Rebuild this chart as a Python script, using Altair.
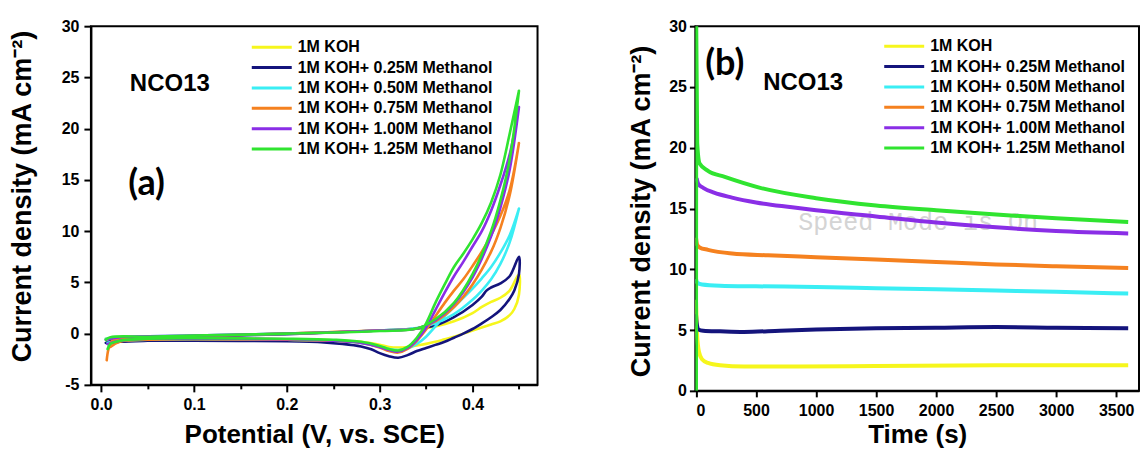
import altair as alt
import pandas as pd

SERIES = ["1M KOH", "1M KOH+ 0.25M Methanol", "1M KOH+ 0.50M Methanol",
          "1M KOH+ 0.75M Methanol", "1M KOH+ 1.00M Methanol", "1M KOH+ 1.25M Methanol"]
COLORS = ["#f6f61c", "#14147c", "#3aeef4", "#f5811f", "#8a2ee6", "#30e430"]

# ---------------- Panel (a): cyclic voltammograms (forward then reverse scan) ----------------
KOH_FV = [0.005, 0.02, 0.1, 0.2, 0.3, 0.34, 0.36, 0.38, 0.40, 0.41, 0.42, 0.43, 0.44, 0.45]
KOH_FJ = [-0.5, -0.35, -0.25, 0.0, 0.3, 0.5, 0.7, 1.2, 2.0, 2.6, 3.1, 3.5, 4.2, 5.8]
KOH_RV = [0.45, 0.445, 0.44, 0.43, 0.42, 0.41, 0.40, 0.39, 0.38, 0.37, 0.36, 0.35, 0.34, 0.33, 0.32, 0.31, 0.30, 0.28, 0.25, 0.2, 0.1, 0.05, 0.02, 0.007]
KOH_RJ = [3.8, 2.4, 1.8, 1.2, 0.9, 0.6, 0.3, 0.0, -0.3, -0.55, -0.8, -1.0, -1.15, -1.3, -1.35, -1.3, -1.1, -0.8, -0.65, -0.55, -0.5, -0.55, -0.65, -0.8]

M025_FV = [0.005, 0.02, 0.1, 0.2, 0.3, 0.34, 0.36, 0.38, 0.40, 0.41, 0.415, 0.42, 0.43, 0.44, 0.45]
M025_FJ = [-0.9, -0.5, -0.3, -0.05, 0.3, 0.5, 0.8, 1.6, 2.8, 3.6, 4.2, 4.5, 4.9, 5.6, 7.5]
M025_RV = [0.45, 0.445, 0.44, 0.43, 0.42, 0.41, 0.40, 0.39, 0.38, 0.37, 0.36, 0.35, 0.34, 0.33, 0.32, 0.31, 0.30, 0.29, 0.28, 0.26, 0.24, 0.2, 0.1, 0.05, 0.02, 0.007]
M025_RJ = [5.8, 4.2, 3.4, 2.3, 1.6, 1.0, 0.45, 0.0, -0.4, -0.8, -1.1, -1.4, -1.7, -2.1, -2.35, -2.2, -1.9, -1.5, -1.25, -1.0, -0.85, -0.75, -0.7, -0.7, -0.8, -1.0]

M050_FV = [0.005, 0.02, 0.1, 0.2, 0.3, 0.34, 0.36, 0.38, 0.40, 0.41, 0.42, 0.43, 0.44, 0.45]
M050_FJ = [-0.5, -0.35, -0.2, 0.0, 0.3, 0.55, 1.0, 1.9, 3.3, 4.2, 5.3, 6.8, 8.9, 12.2]
M050_RV = [0.45, 0.44, 0.43, 0.42, 0.41, 0.40, 0.39, 0.38, 0.37, 0.36, 0.35, 0.34, 0.33, 0.32, 0.31, 0.30, 0.28, 0.25, 0.2, 0.1, 0.05, 0.02, 0.007]
M050_RJ = [12.2, 9.6, 7.9, 6.5, 5.4, 4.4, 3.5, 2.6, 1.7, 0.7, -0.3, -1.0, -1.45, -1.6, -1.5, -1.25, -0.9, -0.7, -0.6, -0.55, -0.6, -0.7, -0.9]

M075_FV = [0.006, 0.008, 0.012, 0.03, 0.1, 0.2, 0.3, 0.34, 0.36, 0.38, 0.40, 0.42, 0.43, 0.44, 0.45]
M075_FJ = [-2.6, -1.5, -0.7, -0.4, -0.25, 0.0, 0.3, 0.5, 1.2, 2.6, 4.8, 8.0, 10.3, 13.5, 18.6]
M075_RV = [0.45, 0.44, 0.43, 0.42, 0.41, 0.40, 0.39, 0.38, 0.37, 0.36, 0.35, 0.34, 0.33, 0.32, 0.31, 0.30, 0.28, 0.25, 0.2, 0.1, 0.05, 0.02, 0.01]
M075_RJ = [18.6, 14.0, 11.5, 9.6, 8.0, 6.6, 5.3, 4.2, 3.0, 1.7, 0.4, -0.7, -1.5, -1.85, -1.7, -1.35, -0.9, -0.7, -0.6, -0.55, -0.6, -0.8, -1.3]

M100_FV = [0.005, 0.02, 0.1, 0.2, 0.3, 0.34, 0.36, 0.38, 0.40, 0.42, 0.43, 0.44, 0.45]
M100_FJ = [-0.6, -0.35, -0.2, 0.0, 0.3, 0.5, 1.3, 2.9, 5.5, 9.5, 12.3, 16.0, 22.1]
M100_RV = [0.45, 0.44, 0.43, 0.42, 0.41, 0.40, 0.39, 0.38, 0.37, 0.36, 0.35, 0.34, 0.33, 0.32, 0.31, 0.30, 0.28, 0.25, 0.2, 0.1, 0.05, 0.02, 0.007]
M100_RJ = [22.1, 17.5, 14.5, 12.0, 10.0, 8.5, 7.0, 5.6, 4.0, 2.3, 0.6, -0.6, -1.4, -1.75, -1.6, -1.3, -0.9, -0.7, -0.55, -0.5, -0.5, -0.7, -1.0]

M125_FV = [0.005, 0.01, 0.05, 0.1, 0.2, 0.3, 0.34, 0.36, 0.38, 0.40, 0.42, 0.43, 0.44, 0.45]
M125_FJ = [-0.6, -0.35, -0.3, -0.2, 0.0, 0.25, 0.5, 1.4, 3.0, 5.8, 10.0, 13.0, 17.0, 23.7]
M125_RV = [0.45, 0.44, 0.43, 0.42, 0.41, 0.40, 0.39, 0.38, 0.37, 0.36, 0.35, 0.34, 0.33, 0.32, 0.31, 0.30, 0.28, 0.25, 0.2, 0.1, 0.05, 0.02, 0.01, 0.007]
M125_RJ = [23.7, 19.5, 15.5, 12.8, 10.8, 9.2, 7.8, 6.5, 4.8, 3.0, 1.0, -0.4, -1.3, -1.65, -1.5, -1.2, -0.8, -0.6, -0.5, -0.45, -0.5, -0.7, -1.0, -1.5]

CV = [(KOH_FV, KOH_FJ, KOH_RV, KOH_RJ), (M025_FV, M025_FJ, M025_RV, M025_RJ),
      (M050_FV, M050_FJ, M050_RV, M050_RJ), (M075_FV, M075_FJ, M075_RV, M075_RJ),
      (M100_FV, M100_FJ, M100_RV, M100_RJ), (M125_FV, M125_FJ, M125_RV, M125_RJ)]

# ---------------- Panel (b): chronoamperometry ----------------
KOH_T = [0, 10, 25, 50, 100, 200, 400, 800, 1500, 2500, 3600]
KOH_J = [7.5, 4.5, 3.2, 2.6, 2.3, 2.1, 2.0, 2.0, 2.05, 2.1, 2.1]
M025_T = [0, 5, 20, 60, 200, 400, 700, 1000, 1500, 2000, 2500, 3000, 3600]
M025_J = [6.3, 5.6, 5.05, 4.95, 4.9, 4.85, 4.95, 5.05, 5.15, 5.2, 5.25, 5.2, 5.15]
M050_T = [0, 10, 50, 200, 500, 1000, 1500, 2000, 2500, 3000, 3600]
M050_J = [9.2, 8.9, 8.75, 8.65, 8.6, 8.55, 8.45, 8.35, 8.25, 8.15, 8.0]
M075_T = [0, 10, 30, 100, 300, 600, 1000, 1500, 2000, 2500, 3000, 3600]
M075_J = [12.6, 12.0, 11.8, 11.6, 11.3, 11.15, 11.0, 10.8, 10.6, 10.4, 10.25, 10.1]
M100_T = [5, 20, 60, 150, 300, 500, 800, 1000, 1500, 2000, 2500, 3000, 3600]
M100_J = [17.5, 17.0, 16.7, 16.3, 15.9, 15.5, 15.1, 14.85, 14.35, 13.85, 13.45, 13.15, 12.95]
M125_T = [0, 2, 10, 30, 100, 240, 535, 1000, 1500, 2000, 2500, 3000, 3600]
M125_J = [0, 30, 20.4, 18.7, 18.1, 17.6, 16.7, 15.85, 15.25, 14.85, 14.5, 14.2, 13.9]

CA = [(KOH_T, KOH_J), (M025_T, M025_J), (M050_T, M050_J),
      (M075_T, M075_J), (M100_T, M100_J), (M125_T, M125_J)]

# annotations (data coordinates)
LABEL_A_X = [0.074]
LABEL_A_Y = [24.35]
TAG_A_X = [0.049]
TAG_A_Y = [14.6]
LABEL_B_X = [893]
LABEL_B_Y = [25.3]
TAG_B_X = [240]
TAG_B_Y = [26.9]
WATERMARK_X = [1850]
WATERMARK_Y = [13.9]

rows = []
for s, (fv, fj, rv, rj) in zip(SERIES, CV):
    i = 0
    for v, j in list(zip(fv, fj)) + list(zip(rv, rj)):
        rows.append({"series": s, "V": v, "J": j, "idx": i})
        i += 1
df_a = pd.DataFrame(rows)

rows = []
for s, (t, j) in zip(SERIES, CA):
    for k, (tt, jj) in enumerate(zip(t, j)):
        rows.append({"series": s, "t": tt, "J": jj, "idx": k})
df_b = pd.DataFrame(rows)

FONT = "Liberation Sans"
YTITLE = "Current density (mA cm\u207b\u00b2)"
BOLD = {"condition": {"test": "datum.value === datum.value", "value": "bold"}, "value": "bold"}

common_axis = dict(
    labelFont=FONT, labelFontSize=16, labelFontWeight=BOLD, labelColor="black",
    titleFont=FONT, titleFontWeight="bold", titleColor="black",
    domainColor="black", domainWidth=2, tickColor="black", tickWidth=2,
    grid=False,
)


def legend(lx, ly):
    return alt.Legend(
        title=None, orient="none", legendX=lx, legendY=ly,
        symbolType="M-7,0H1", symbolSize=100, symbolStrokeWidth=3,
        labelFont=FONT, labelFontSize=16, labelFontWeight="bold", labelColor="black",
        labelLimit=0, rowPadding=4.4, labelOffset=3, padding=0,
    )


color_scale = alt.Scale(domain=SERIES, range=COLORS)

# ---- panel a ----
xa_axis = alt.Axis(
    title="Potential (V, vs. SCE)", titleFontSize=26, titleY=58, titleBaseline="alphabetic",
    values=[0.0, 0.05, 0.1, 0.15, 0.2, 0.25, 0.3, 0.35, 0.4, 0.45],
    labelExpr="abs(datum.value*10 - round(datum.value*10)) < 0.001 ? format(datum.value, '.1f') : ''",
    tickSize={"condition": {"test": "abs(datum.value*10 - round(datum.value*10)) < 0.001", "value": 7}, "value": 4},
    labelPadding=5, **common_axis)
ya_axis = alt.Axis(
    title=YTITLE, titleFontSize=27, titleX=-54, titleY=170,
    values=[-5, -2.5, 0, 2.5, 5, 7.5, 10, 12.5, 15, 17.5, 20, 22.5, 25, 27.5, 30],
    labelExpr="datum.value % 5 === 0 ? '' + datum.value : ''",
    tickSize={"condition": {"test": "datum.value % 5 === 0", "value": 7}, "value": 4},
    labelPadding=5, **common_axis)

xa = alt.X("V:Q", scale=alt.Scale(domain=[-0.011, 0.47], nice=False, zero=False), axis=xa_axis)
ya = alt.Y("J:Q", scale=alt.Scale(domain=[-5, 30], nice=False, zero=False), axis=ya_axis)

lines_a = alt.Chart(df_a).mark_line(strokeWidth=2.6, interpolate="catmull-rom", clip=True,
                                     strokeCap="round", strokeJoin="round").encode(
    x=xa, y=ya,
    color=alt.Color("series:N", scale=color_scale, legend=legend(188, 13)),
    order="idx:Q",
)
nco_a = alt.Chart(pd.DataFrame({"V": LABEL_A_X, "J": LABEL_A_Y, "txt": ["NCO13"]})).mark_text(
    font=FONT, fontSize=24, fontWeight="bold", color="black", baseline="middle").encode(
    x="V:Q", y="J:Q", text="txt:N")
tag_a = alt.Chart(pd.DataFrame({"V": TAG_A_X, "J": TAG_A_Y, "txt": ["(a)"]})).mark_text(
    font="Lato", fontSize=36, fontWeight="bold", color="black", baseline="middle").encode(
    x="V:Q", y="J:Q", text="txt:N")

panel_a = alt.layer(lines_a, nco_a, tag_a).properties(width=447, height=359)

# ---- panel b ----
xb_axis = alt.Axis(
    title="Time (s)", titleFontSize=26, titleY=52, titleBaseline="alphabetic",
    values=list(range(0, 3501, 250)),
    labelExpr="datum.value % 500 === 0 ? '' + datum.value : ''",
    tickSize={"condition": {"test": "datum.value % 500 === 0", "value": 6}, "value": 4},
    labelPadding=6, **common_axis)
yb_axis = alt.Axis(
    title=YTITLE, titleFontSize=27, titleX=-40, titleY=185,
    values=[0, 2.5, 5, 7.5, 10, 12.5, 15, 17.5, 20, 22.5, 25, 27.5, 30],
    labelExpr="datum.value % 5 === 0 ? '' + datum.value : ''",
    tickSize={"condition": {"test": "datum.value % 5 === 0", "value": 6}, "value": 4},
    labelPadding=3, **common_axis)

xb = alt.X("t:Q", scale=alt.Scale(domain=[-5, 3690], nice=False, zero=False), axis=xb_axis)
yb = alt.Y("J:Q", scale=alt.Scale(domain=[0, 30], nice=False, zero=False), axis=yb_axis)

lines_b = alt.Chart(df_b).mark_line(strokeWidth=4, interpolate="monotone", clip=True,
                                     strokeJoin="round").encode(
    x=xb, y=yb,
    color=alt.Color("series:N", scale=color_scale, legend=legend(216, 12)),
    order="idx:Q",
)
nco_b = alt.Chart(pd.DataFrame({"t": LABEL_B_X, "J": LABEL_B_Y, "txt": ["NCO13"]})).mark_text(
    font=FONT, fontSize=24, fontWeight="bold", color="black", baseline="middle").encode(
    x="t:Q", y="J:Q", text="txt:N")
tag_b = alt.Chart(pd.DataFrame({"t": TAG_B_X, "J": TAG_B_Y, "txt": ["(b)"]})).mark_text(
    font="Lato", fontSize=36, fontWeight="bold", color="black", baseline="middle").encode(
    x="t:Q", y="J:Q", text="txt:N")
wm_b = alt.Chart(pd.DataFrame({"t": WATERMARK_X, "J": WATERMARK_Y, "txt": ["Speed Mode is On"]})).mark_text(
    font="Liberation Mono", fontSize=25, color="#d4d4d4", baseline="middle").encode(
    x="t:Q", y="J:Q", text="txt:N")

panel_b = alt.layer(wm_b, lines_b, nco_b, tag_b).properties(width=444, height=365)

chart = alt.hconcat(panel_a, panel_b, spacing=88).resolve_scale(color="independent").properties(
    padding={"left": 8, "top": 17, "right": 0, "bottom": 0}
).configure(background="white").configure_view(stroke="black", strokeWidth=2)

chart.save("out.html", embed_options={"renderer": "svg", "actions": False})
